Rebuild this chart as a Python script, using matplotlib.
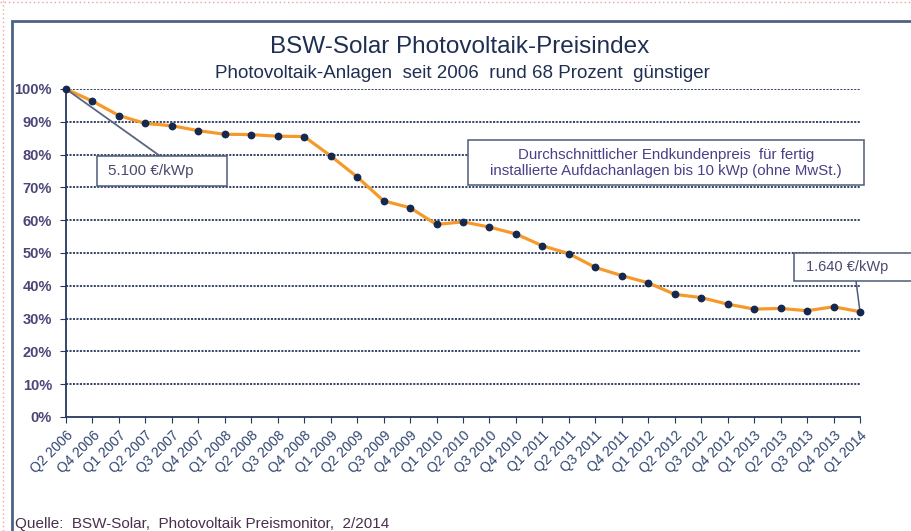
import matplotlib.pyplot as plt
from matplotlib.patches import Rectangle
from matplotlib.lines import Line2D

quarters = [
    'Q2 2006', 'Q4 2006', 'Q1 2007', 'Q2 2007', 'Q3 2007', 'Q4 2007',
    'Q1 2008', 'Q2 2008', 'Q3 2008', 'Q4 2008', 'Q1 2009', 'Q2 2009',
    'Q3 2009', 'Q4 2009', 'Q1 2010', 'Q2 2010', 'Q3 2010', 'Q4 2010',
    'Q1 2011', 'Q2 2011', 'Q3 2011', 'Q4 2011', 'Q1 2012', 'Q2 2012',
    'Q3 2012', 'Q4 2012', 'Q1 2013', 'Q2 2013', 'Q3 2013', 'Q4 2013',
    'Q1 2014',
]
price_index = [
    100.0, 96.3, 91.9, 89.5, 88.8, 87.3,
    86.2, 86.1, 85.6, 85.5, 79.6, 73.2,
    65.9, 63.8, 58.7, 59.5, 57.9, 55.8,
    52.2, 49.8, 45.6, 43.1, 40.9, 37.4,
    36.4, 34.4, 32.9, 33.1, 32.4, 33.6,
    32.1,
]
y_ticks = [0, 10, 20, 30, 40, 50, 60, 70, 80, 90, 100]

W, H = 911, 531
navy = '#26385e'
label_col = '#4a4677'
box_edge = '#4d5c7c'
font = 'Liberation Sans'


def px(x, y):
    # pixel position from the top-left corner -> figure fraction
    return x / W, 1 - y / H


def add_box(fig, x0, y0, x1, y1):
    fig.add_artist(Rectangle(px(x0, y1), (x1 - x0) / W, (y1 - y0) / H,
                             transform=fig.transFigure, facecolor='white',
                             edgecolor=box_edge, linewidth=1.1, zorder=5))


fig = plt.figure(figsize=(W / 100, H / 100), dpi=100)
fig.patch.set_facecolor('white')

# outer frame and dotted page border
fig.add_artist(Rectangle((12 / W, -0.1), 1.2, 1 - 21 / H + 0.1,
                         transform=fig.transFigure, fill=False,
                         edgecolor='#4d6283', linewidth=2))
fig.add_artist(Line2D([0, 1], [1 - 2 / H] * 2, transform=fig.transFigure,
                      color='#f0a0a0', linewidth=1, linestyle=(0, (1, 2))))
fig.add_artist(Line2D([3 / W] * 2, [0, 1], transform=fig.transFigure,
                      color='#f0a0a0', linewidth=1, linestyle=(0, (1, 2))))

ax = fig.add_axes([66 / W, 114 / H, 794 / W, 328 / H])
x = list(range(len(quarters)))
ax.plot(x, price_index, color='#f59a2a', linewidth=2.3, zorder=3,
        clip_on=False)
ax.plot(x, price_index, linestyle='none', marker='o', markersize=4.6,
        color='#142850', zorder=4, clip_on=False)

ax.set_xlim(0, len(quarters) - 1)
ax.set_ylim(0, 100)
ax.set_yticks(y_ticks)
ax.set_yticklabels([f'{v}%' for v in y_ticks], fontsize=10.5,
                   color=label_col, family=font, fontweight='bold')
ax.set_xticks(x)
ax.set_xticklabels(quarters, rotation=45, ha='right',
                   rotation_mode='anchor', fontsize=10, color='#2f4570',
                   family=font)
ax.tick_params(axis='x', length=4, color=navy, pad=4)
ax.tick_params(axis='y', length=4, color=navy, pad=6)
for v in y_ticks[1:]:
    ax.axhline(v, color='#1e2e55', linewidth=1.25,
               linestyle=(0, (1.2, 0.8)), zorder=1)
for side in ['top', 'right']:
    ax.spines[side].set_visible(False)
for side in ['left', 'bottom']:
    ax.spines[side].set_color(navy)
    ax.spines[side].set_linewidth(1.3)

fig.text(*px(460, 47), 'BSW-Solar Photovoltaik-Preisindex',
         ha='center', va='center', fontsize=17.5, color='#1f2f52',
         family=font)
fig.text(*px(462, 73),
         'Photovoltaik-Anlagen  seit 2006  rund 68 Prozent  günstiger',
         ha='center', va='center', fontsize=13.5, color='#1f2f52',
         family=font)

# callout: start price
ax.annotate('', xy=(0, price_index[0]), xytext=(160, H - 156),
            textcoords='figure pixels',
            arrowprops=dict(arrowstyle='-', color='#5a6680', linewidth=1.3,
                            shrinkA=0, shrinkB=0))
add_box(fig, 97, 156, 227, 186)
fig.text(*px(108, 171), '5.100 €/kWp', ha='left', va='center',
         fontsize=11, color='#4a4a6e', family=font, zorder=6)

# callout: description
add_box(fig, 468, 140, 864, 185)
fig.text(*px(666, 163),
         'Durchschnittlicher Endkundenpreis  für fertig\n'
         'installierte Aufdachanlagen bis 10 kWp (ohne MwSt.)',
         ha='center', va='center', fontsize=10.8, color='#4b3f86',
         family=font, linespacing=1.15, zorder=6)

# callout: end price
ax.annotate('', xy=(len(quarters) - 1, price_index[-1]),
            xytext=(856, H - 281), textcoords='figure pixels',
            annotation_clip=False,
            arrowprops=dict(arrowstyle='-', color=box_edge, linewidth=1.1,
                            shrinkA=0, shrinkB=0))
add_box(fig, 794, 253, 940, 281)
fig.text(*px(806, 267), '1.640 €/kWp', ha='left', va='center',
         fontsize=10.5, color='#4a4a6e', family=font, zorder=6)

fig.text(*px(15, 524),
         'Quelle:  BSW-Solar,  Photovoltaik Preismonitor,  2/2014',
         ha='left', va='center', fontsize=11, color='#4a2f4e', family=font)

fig.savefig('out.png', dpi=100, facecolor='white')
